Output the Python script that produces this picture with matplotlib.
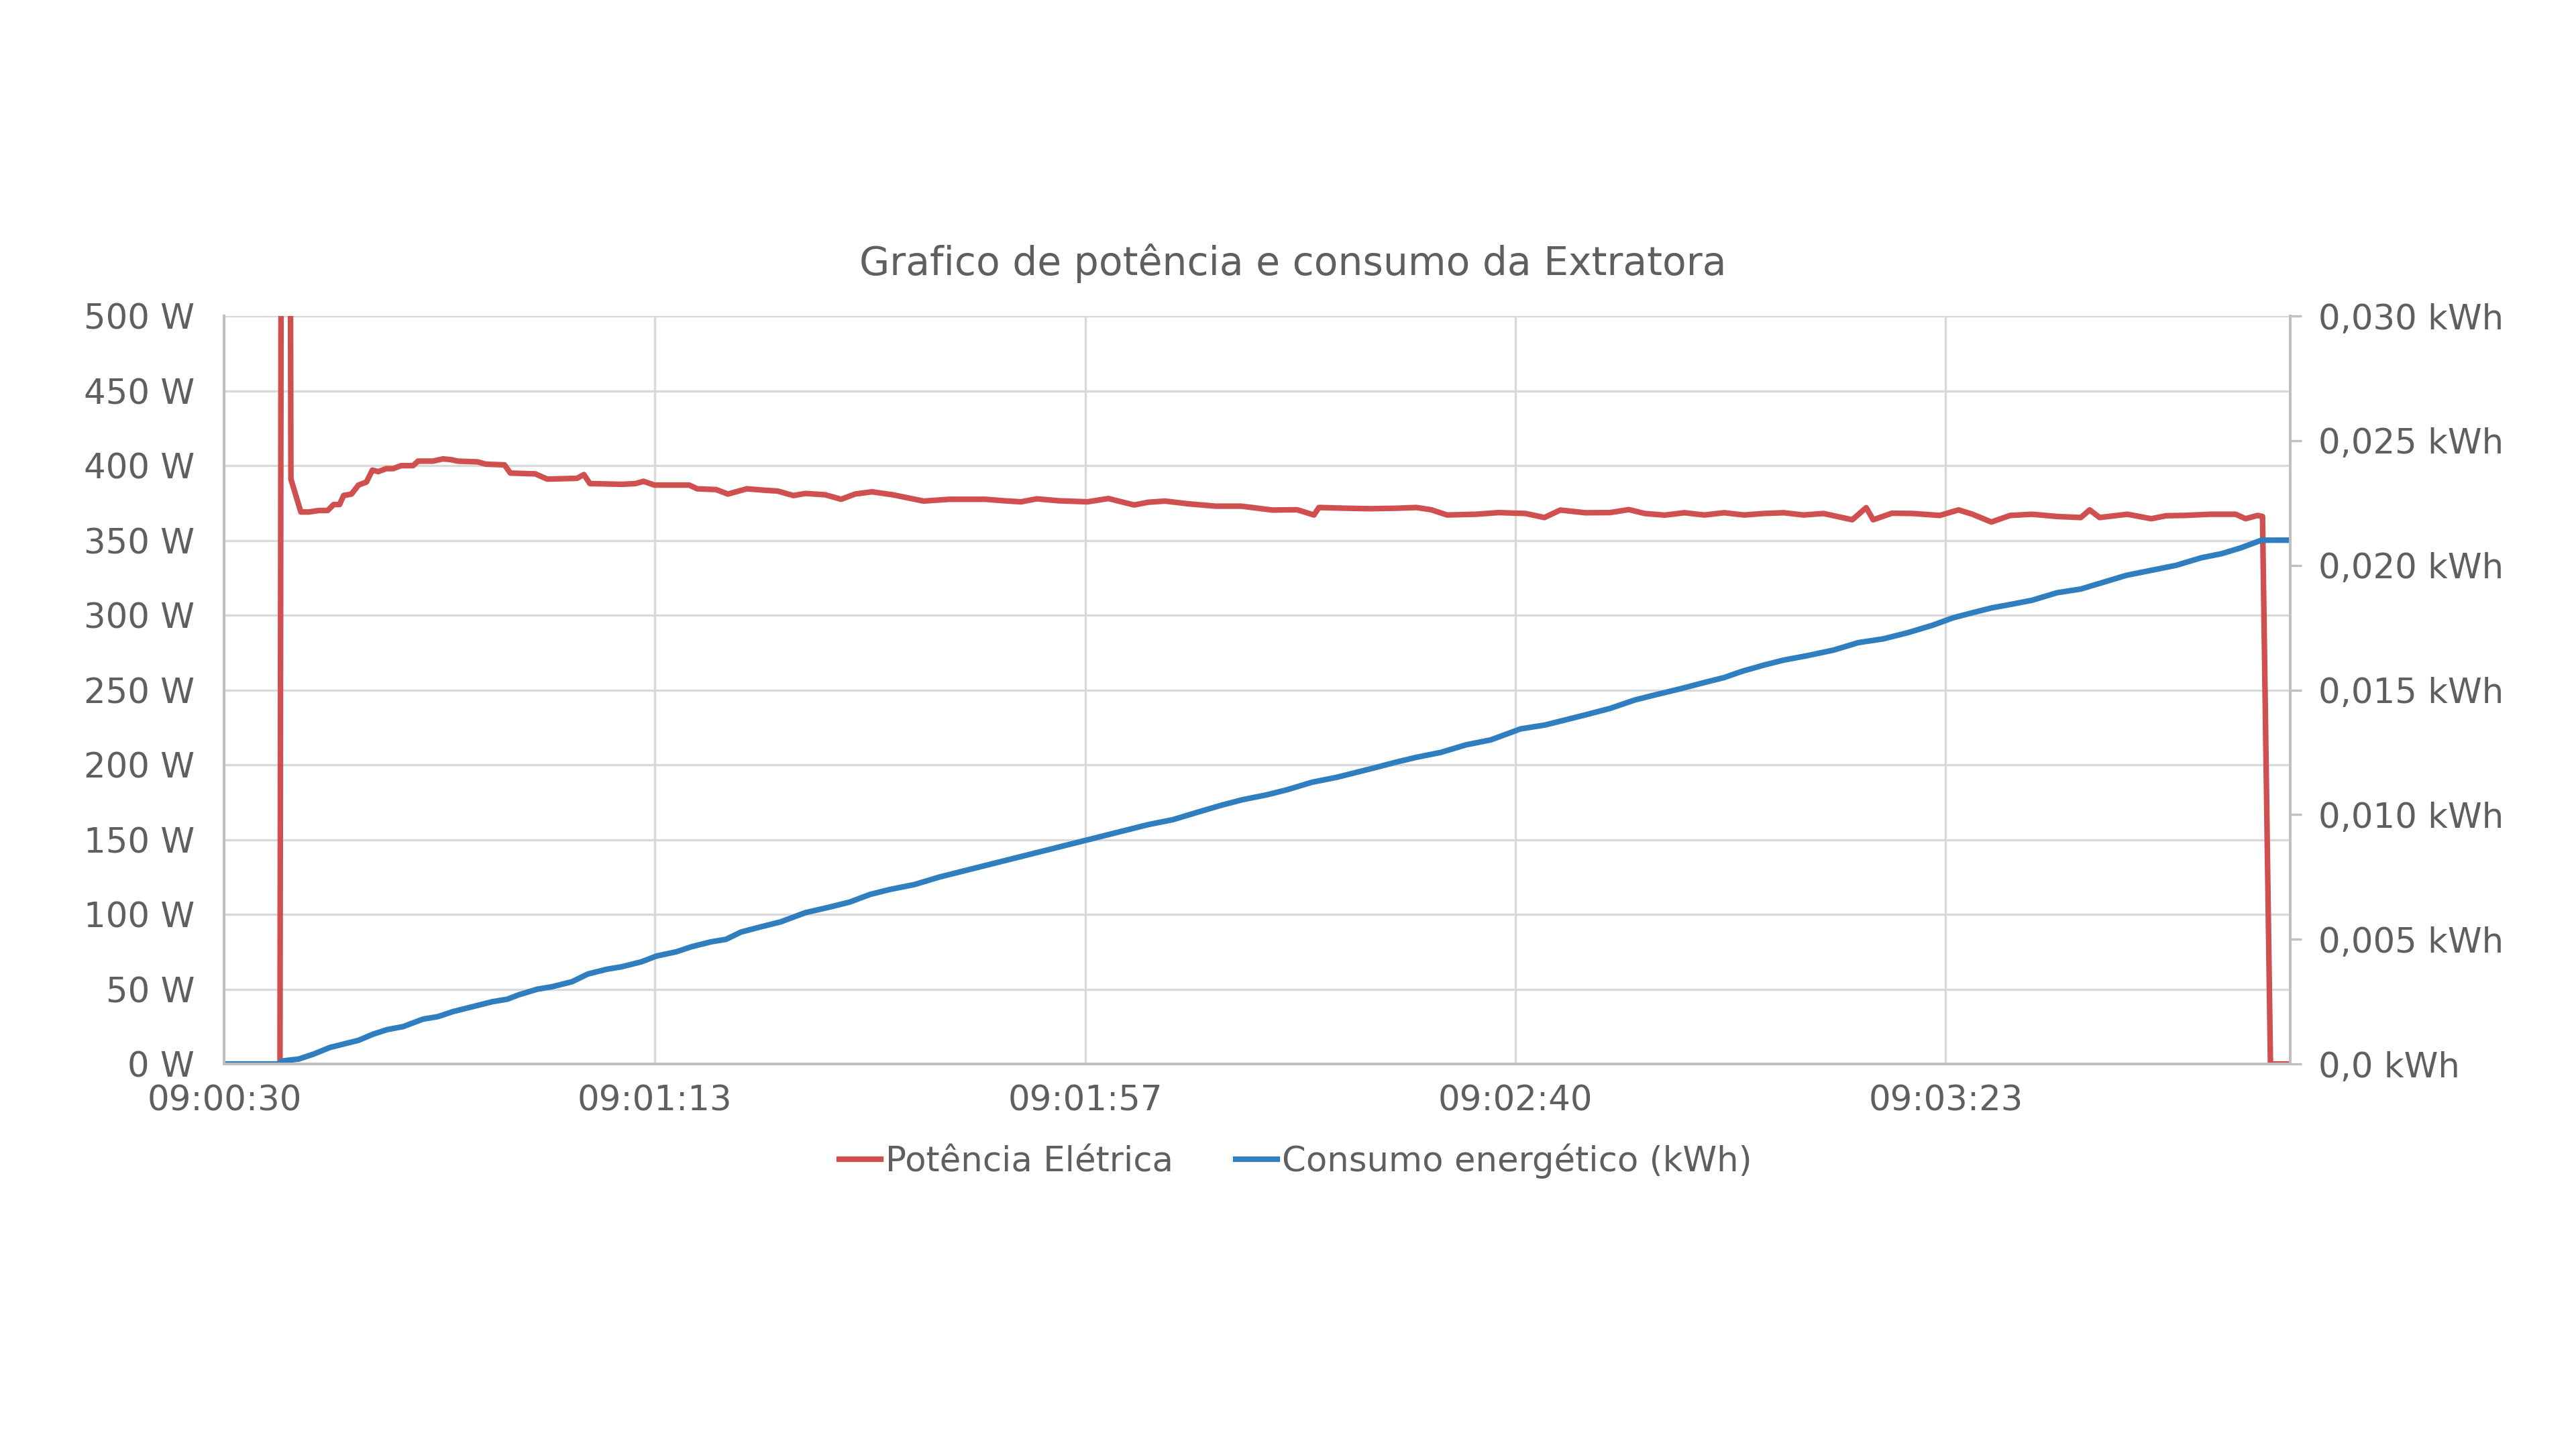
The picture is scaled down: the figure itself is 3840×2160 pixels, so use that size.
import matplotlib
matplotlib.use("Agg")
import matplotlib.pyplot as plt

# seconds after 09:00:30
power_t = [0, 5.6, 5.8, 6.5, 6.7, 7.7, 8.5, 9.5, 10.4, 11.0, 11.6, 12.0, 12.8, 13.5, 14.3,
           14.9, 15.5, 16.3, 17.0, 17.8, 19.0, 19.5, 21.0, 22.0, 22.8, 23.5, 25.5, 26.3,
           28.2, 28.8, 31.3, 32.5, 35.5, 36.2, 36.8, 40.0, 41.4, 42.2, 43.3, 46.8, 47.6,
           49.5, 50.7, 52.6, 54.5, 55.7, 57.3, 58.5, 60.5, 62.1, 63.5, 65.2, 67.3, 70.4,
           73.0, 76.6, 78.5, 80.2, 81.8, 84.0, 86.9, 89.0, 90.2, 91.6, 93.0, 94.7, 97.0,
           99.8, 102.4, 105.5, 108.0, 109.7, 110.2, 113.0, 115.3, 118.0, 120.0, 121.5,
           123.1, 126.0, 128.3, 131.0, 132.9, 134.5, 137.0, 139.5, 141.4, 143.0, 145.0,
           147.0, 149.0, 151.0, 153.0, 155.0, 157.0, 159.0, 161.0, 163.9, 165.3, 166.0,
           167.9, 170.0, 172.7, 174.6, 176.0, 177.9, 179.8, 182.0, 184.5, 186.9, 187.8,
           188.8, 191.6, 194.0, 195.5, 197.3, 200.0, 202.5, 203.5, 204.7, 205.2, 206.0, 208.0]
power_w = [0, 0, 980, 980, 391, 369, 369, 370, 370, 374, 374, 380, 381, 387, 389,
           397, 396, 398, 398, 400, 400, 403, 403, 404.5, 404, 403, 402.5, 401,
           400.5, 395, 394.5, 391, 391.5, 394, 388, 387.5, 388, 389.5, 387, 387, 384.5,
           384, 381, 384.5, 383.5, 383, 380, 381.4, 380.5, 377.5, 381, 382.5, 380.5, 376.3,
           377.5, 377.5, 376.5, 375.8, 377.8, 376.5, 375.8, 378, 376, 373.7, 375.5, 376.3, 374.5,
           372.9, 372.9, 370.3, 370.5, 367, 372, 371.5, 371.2, 371.5, 372, 370.5,
           367, 367.5, 368.6, 368, 365.3, 370.3, 368.5, 368.6, 370.6, 368, 366.9,
           368.5, 367, 368.5, 367, 368, 368.5, 367, 368, 363.8, 371.9, 363.8,
           368.2, 368, 366.7, 370.4, 367.5, 362.3, 366.7, 367.5, 366, 365.3, 370.4,
           365.3, 367.5, 364.5, 366.5, 366.7, 367.5, 367.5, 364.5, 366.7, 366, 0, 0]

energy_t = [0, 5.6, 5.8, 7.5, 9.0, 10.6, 12.0, 13.5, 15.0, 16.4, 18.0, 20.0, 21.5, 23.0,
            25.0, 27.0, 28.5, 29.6, 31.5, 33.0, 35.0, 36.6, 38.5, 40.0, 42.0, 43.5, 45.5,
            47.0, 49.0, 50.5, 52.0, 54.0, 56.0, 58.5, 61.0, 63.0, 65.0, 67.0, 69.5, 72.0,
            74.0, 76.0, 78.0, 80.0, 82.0, 84.0, 86.7, 89.0, 91.0, 93.0, 95.5, 98.0, 100.3,
            102.5, 105.0, 107.0, 109.5, 112.0, 114.0, 116.0, 117.9, 120.0, 122.5, 125.0,
            127.5, 130.5, 133.0, 135.0, 137.0, 139.5, 142.0, 144.0, 146.6, 149.0, 151.0,
            152.8, 155.0, 157.0, 159.4, 162.0, 164.5, 167.0, 169.5, 172.0, 174.0, 176.0,
            178.0, 179.8, 182.0, 184.5, 186.9, 189.0, 191.5, 194.0, 196.5, 199.0, 201.1,
            203.0, 205.1, 208.0]
energy_kwh = [0, 0, 0.00012, 0.0002, 0.0004, 0.00066, 0.0008, 0.00095, 0.0012, 0.00138,
              0.0015, 0.0018, 0.0019, 0.0021, 0.0023, 0.0025, 0.0026, 0.00277, 0.0030,
              0.0031, 0.0033, 0.00361, 0.0038, 0.0039, 0.0041, 0.00433, 0.0045, 0.0047,
              0.0049, 0.0050, 0.00529, 0.0055, 0.0057, 0.00607, 0.0063, 0.0065, 0.0068,
              0.0070, 0.0072, 0.0075, 0.0077, 0.0079, 0.0081, 0.0083, 0.0085, 0.0087,
              0.00897, 0.0092, 0.0094, 0.0096, 0.0098, 0.0101, 0.01037, 0.0106, 0.0108,
              0.0110, 0.0113, 0.0115, 0.0117, 0.0119, 0.0121, 0.0123, 0.0125, 0.0128,
              0.0130, 0.01344, 0.0136, 0.0138, 0.0140, 0.01426, 0.0146, 0.0148, 0.01505,
              0.0153, 0.0155, 0.01575, 0.0160, 0.0162, 0.01638, 0.0166, 0.0169, 0.01705,
              0.0173, 0.0176, 0.01789, 0.0181, 0.0183, 0.01843, 0.0186, 0.0189, 0.01905,
              0.0193, 0.0196, 0.0198, 0.0200, 0.0203, 0.02047, 0.0207, 0.02101, 0.02101]

x_tick_s = [0, 43.3, 86.7, 130.0, 173.3]
x_tick_labels = ['09:00:30', '09:01:13', '09:01:57', '09:02:40', '09:03:23']
w_ticks = [0, 50, 100, 150, 200, 250, 300, 350, 400, 450, 500]
kwh_ticks = [0, 0.005, 0.010, 0.015, 0.020, 0.025, 0.030]
kwh_labels = ['0,0 kWh', '0,005 kWh', '0,010 kWh', '0,015 kWh', '0,020 kWh', '0,025 kWh', '0,030 kWh']

red = '#D04F4F'
blue = '#2F7EBF'
grid = '#D9D9D9'
txt = '#5F5F5F'

plt.rcParams['font.family'] = ['DejaVu Sans']
fig = plt.figure(figsize=(19.2, 10.8), dpi=200)
ax = fig.add_axes([0.0871, 0.2657, 0.8020, 0.5162])
ax2 = ax.twinx()

l1, = ax.plot(power_t, power_w, color=red, linewidth=3.0, label='Potência Elétrica')
l2, = ax2.plot(energy_t, energy_kwh, color=blue, linewidth=3.0, label='Consumo energético (kWh)')

ax.set_xlim(0, 208)
ax.set_ylim(0, 500)
ax2.set_ylim(0, 0.030)

ax.set_xticks(x_tick_s)
ax.set_xticklabels(x_tick_labels)
ax.set_yticks(w_ticks)
ax.set_yticklabels([f'{v} W' for v in w_ticks])
ax2.set_yticks(kwh_ticks)
ax2.set_yticklabels(kwh_labels)

ax.grid(True, color=grid, linewidth=1.2)
ax.set_axisbelow(True)
ax.tick_params(axis='both', length=0, labelsize=18.5, labelcolor=txt)
ax.tick_params(axis='y', pad=16)
ax.tick_params(axis='x', pad=11)
ax2.tick_params(axis='y', length=6, width=1.2, color='#BFBFBF', labelsize=18.5, labelcolor=txt, pad=9)

for a in (ax, ax2):
    a.spines['top'].set_visible(False)
    a.spines['left'].set_color('#BFBFBF')
    a.spines['bottom'].set_color('#BFBFBF')
    a.spines['right'].set_color('#BFBFBF')
    for s in a.spines.values():
        s.set_linewidth(1.4)

fig.text(0.502, 0.8185, 'Grafico de potência e consumo da Extratora', ha='center', va='center',
         fontsize=21, color=txt)

fig.legend([l1, l2], ['Potência Elétrica', 'Consumo energético (kWh)'], loc='center',
           bbox_to_anchor=(0.503, 0.1986), ncol=2, frameon=False, fontsize=18.5,
           handlelength=1.2, handletextpad=0.15, columnspacing=1.8, labelcolor=txt)

fig.savefig('out.png', dpi=200, facecolor='white')
plt.close()
